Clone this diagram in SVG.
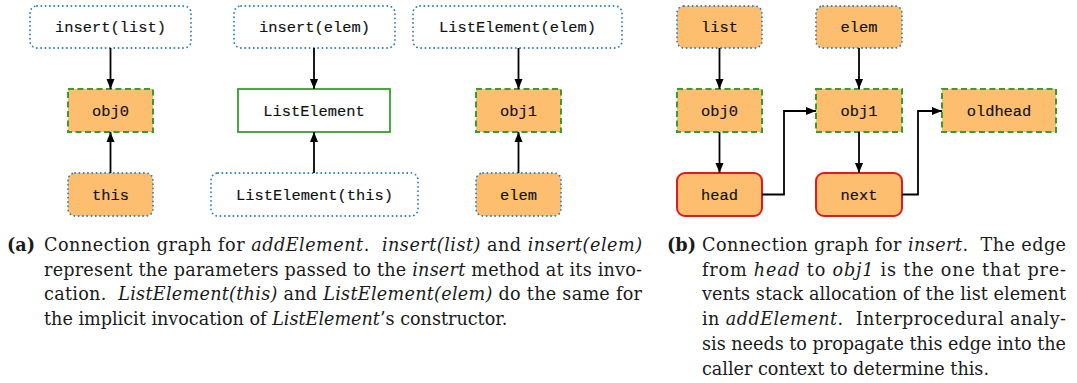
<svg xmlns="http://www.w3.org/2000/svg" width="1077" height="383" viewBox="0 0 1077 383">
<style>
.lbl{font-family:"Liberation Mono","DejaVu Sans Mono",monospace;font-size:15.4px;text-anchor:middle;fill:#111;stroke:#111;stroke-width:0.15}
.par{fill:#fff;stroke:#2a7fc1;stroke-width:1.8;stroke-dasharray:0.1 4.2;stroke-linecap:round}
.parf{fill:#fdbf6f;stroke:#2a7fc1;stroke-width:1.8;stroke-dasharray:0.1 4.2;stroke-linecap:round}
.obj{fill:#fdbf6f;stroke:#33a02c;stroke-width:2;stroke-dasharray:6 3.5}
.alloc{fill:#fff;stroke:#33a02c;stroke-width:1.8}
.fld{fill:#fdbf6f;stroke:#e31a1c;stroke-width:2}
.edge{fill:none;stroke:#000;stroke-width:1.8}
.cap{font-family:"DejaVu Serif","Liberation Serif",serif;font-size:17.6px;fill:#1a1a1a;white-space:pre}
.cap .i{font-style:italic}
.cap .b{font-weight:bold}
</style>
<defs>
<marker id="ah" markerWidth="10" markerHeight="10" viewBox="0 0 10 10" refX="10" refY="5" orient="auto" markerUnits="userSpaceOnUse">
<path d="M0,1 L10,5 L0,9 z" fill="#000"/>
</marker>
</defs>

<!-- panel a -->
<g id="a-insert-list"><rect class="par" x="30" y="6" width="161" height="42" rx="7"/><text class="lbl" x="110.5" y="32">insert(list)</text></g>
<g id="a-obj0"><rect class="obj" x="68" y="89" width="85" height="43"/><text class="lbl" x="110.5" y="115.5">obj0</text></g>
<g id="a-this"><rect class="parf" x="68" y="173" width="85" height="43" rx="7"/><text class="lbl" x="110.5" y="199.5">this</text></g>
<g id="a-insert-elem"><rect class="par" x="234" y="6" width="161" height="42" rx="7"/><text class="lbl" x="314.5" y="32">insert(elem)</text></g>
<g id="a-listelement"><rect class="alloc" x="238" y="89" width="152" height="43"/><text class="lbl" x="314" y="115.5">ListElement</text></g>
<g id="a-listelement-this"><rect class="par" x="211" y="173" width="207" height="43" rx="7"/><text class="lbl" x="314.5" y="199.5">ListElement(this)</text></g>
<g id="a-listelement-elem"><rect class="par" x="413" y="6" width="209" height="42" rx="7"/><text class="lbl" x="517.5" y="32">ListElement(elem)</text></g>
<g id="a-obj1"><rect class="obj" x="476" y="89" width="85" height="43"/><text class="lbl" x="518.5" y="115.5">obj1</text></g>
<g id="a-elem"><rect class="parf" x="476" y="173" width="85" height="43" rx="7"/><text class="lbl" x="518.5" y="199.5">elem</text></g>

<!-- panel b -->
<g id="b-list"><rect class="parf" x="677" y="6" width="85" height="42" rx="7"/><text class="lbl" x="719.5" y="32">list</text></g>
<g id="b-obj0"><rect class="obj" x="677" y="89" width="85" height="43"/><text class="lbl" x="719.5" y="115.5">obj0</text></g>
<g id="b-head"><rect class="fld" x="677" y="173" width="85" height="43" rx="8"/><text class="lbl" x="719.5" y="199.5">head</text></g>
<g id="b-elem"><rect class="parf" x="816" y="6" width="86" height="42" rx="7"/><text class="lbl" x="859" y="32">elem</text></g>
<g id="b-obj1"><rect class="obj" x="816" y="89" width="86" height="43"/><text class="lbl" x="859" y="115.5">obj1</text></g>
<g id="b-next"><rect class="fld" x="816" y="173" width="86" height="43" rx="8"/><text class="lbl" x="859" y="199.5">next</text></g>
<g id="b-oldhead"><rect class="obj" x="942" y="89" width="114" height="43"/><text class="lbl" x="999" y="115.5">oldhead</text></g>

<g id="connectors">
<path class="edge" marker-end="url(#ah)" d="M110.5,48 V89"/>
<path class="edge" marker-end="url(#ah)" d="M110.5,173 V132"/>
<path class="edge" marker-end="url(#ah)" d="M314,48 V89"/>
<path class="edge" marker-end="url(#ah)" d="M314,173 V132"/>
<path class="edge" marker-end="url(#ah)" d="M518.5,48 V89"/>
<path class="edge" marker-end="url(#ah)" d="M518.5,173 V132"/>
<path class="edge" marker-end="url(#ah)" d="M719.5,48 V89"/>
<path class="edge" marker-end="url(#ah)" d="M719.5,132 V173"/>
<path class="edge" marker-end="url(#ah)" d="M859,48 V89"/>
<path class="edge" marker-end="url(#ah)" d="M859,132 V173"/>
<path class="edge" marker-end="url(#ah)" d="M762,194.5 H784 V111 H816"/>
<path class="edge" marker-end="url(#ah)" d="M902,194.5 H918 V111 H942"/>
</g>

<g id="caption-a">
<text class="cap" x="7" y="251"><tspan class="b">(a)</tspan></text>
<text class="cap" x="44" y="251" textLength="598" lengthAdjust="spacing">Connection graph for <tspan class="i">addElement</tspan>.  <tspan class="i">insert(list)</tspan> and <tspan class="i">insert(elem)</tspan></text>
<text class="cap" x="44" y="276" textLength="598" lengthAdjust="spacing">represent the parameters passed to the <tspan class="i">insert</tspan> method at its invo-</text>
<text class="cap" x="44" y="300" textLength="598" lengthAdjust="spacing">cation.  <tspan class="i">ListElement(this)</tspan> and <tspan class="i">ListElement(elem)</tspan> do the same for</text>
<text class="cap" x="44" y="325">the implicit invocation of <tspan class="i">ListElement</tspan>’s constructor.</text>
</g>

<g id="caption-b">
<text class="cap" x="667" y="251"><tspan class="b">(b)</tspan></text>
<text class="cap" x="702" y="251" textLength="364" lengthAdjust="spacing">Connection graph for <tspan class="i">insert</tspan>.  The edge</text>
<text class="cap" x="702" y="276" textLength="364" lengthAdjust="spacing">from <tspan class="i">head</tspan> to <tspan class="i">obj1</tspan> is the one that pre-</text>
<text class="cap" x="702" y="300" textLength="364" lengthAdjust="spacing">vents stack allocation of the list element</text>
<text class="cap" x="702" y="325" textLength="364" lengthAdjust="spacing">in <tspan class="i">addElement</tspan>.  Interprocedural analy-</text>
<text class="cap" x="702" y="350" textLength="364" lengthAdjust="spacing">sis needs to propagate this edge into the</text>
<text class="cap" x="702" y="375">caller context to determine this.</text>
</g>
</svg>
